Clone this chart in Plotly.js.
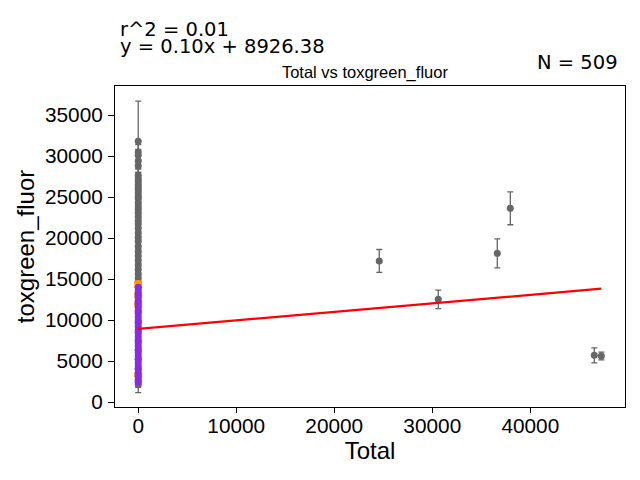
<!DOCTYPE html>
<html>
<head>
<meta charset="utf-8">
<script src="https://cdn.plot.ly/plotly-3.0.1.min.js"></script>
<style>
  body { margin: 0; background: #fff; }
  #plot { width: 640px; height: 480px; }
</style>
</head>
<body>
<div id="plot"></div>
<script>
// points sitting at Total = 0 (gray, with error bars)
var grayZeroY = [31800, 30500, 30100, 29400, 28800, 27600, 27200, 26900, 26500, 26200,
                 25900, 25500, 25100, 24800, 24300, 23900, 23500, 23100, 22600, 22100,
                 21700, 21200, 20600, 20100, 19600, 19000, 18400, 17800, 17300, 16700,
                 16200, 15600, 15100, 14600, 14000, 13200, 12100, 11000, 9800, 8600,
                 7400, 6300, 5200, 4100, 3200, 2600, 2100];
var grayZeroErr = [4900, 900, 700, 1000, 800, 900, 700, 1100, 800, 900,
                   700, 1000, 800, 900, 700, 1000, 800, 700, 900, 800,
                   700, 900, 800, 700, 900, 800, 700, 900, 800, 700,
                   800, 900, 700, 800, 700, 800, 700, 800, 700, 800,
                   700, 800, 700, 800, 700, 800, 950];

// the few points with a nonzero Total
var grayX = [24590, 30610, 36630, 37960, 46530, 47245];
var grayY = [17200, 12520, 18130, 23620, 5690, 5610];
var grayErr = [1400, 1120, 1770, 2000, 910, 470];

// orange points at Total = 0 (mostly hidden behind purple)
var orangeY = [14400, 13000, 11900, 3300];
var orangeErr = [300, 300, 300, 200];

// purple points at Total = 0
var purpleY = [14000, 13600, 13200, 12800, 12400, 12000, 11600, 11200, 10800, 10400,
               10000, 9600, 9200, 8800, 8400, 8000, 7600, 7200, 6800, 6400,
               6000, 5600, 5200, 4800, 4400, 4000, 3600, 3200, 2800, 2400];

var fitSlope = 0.1035;
var fitIntercept = 8926.38;
var fitXEnd = 47245;

var r2Label = 'r^2 = 0.01';
var eqLabel = 'y = 0.10x + 8926.38';
var nLabel = 'N = 509';

var gray = '#666666';
var sans = 'Liberation Sans, Arial, sans-serif';

var traces = [
  {
    x: grayZeroY.map(function () { return 0; }),
    y: grayZeroY,
    type: 'scatter', mode: 'markers',
    marker: { color: gray, size: 7 },
    error_y: { type: 'data', array: grayZeroErr, color: gray, thickness: 1.3, width: 3 },
    showlegend: false
  },
  {
    x: grayX, y: grayY,
    type: 'scatter', mode: 'markers',
    marker: { color: gray, size: 7 },
    error_y: { type: 'data', array: grayErr, color: gray, thickness: 1.3, width: 3 },
    showlegend: false
  },
  {
    x: orangeY.map(function () { return 0; }),
    y: orangeY,
    type: 'scatter', mode: 'markers',
    marker: { color: '#ff9900', size: 8 },
    error_y: { type: 'data', array: orangeErr, color: '#ff9900', thickness: 1.3, width: 4 },
    showlegend: false
  },
  {
    x: purpleY.map(function () { return 0; }),
    y: purpleY,
    type: 'scatter', mode: 'markers',
    marker: { color: '#8a2be2', size: 7 },
    showlegend: false
  },
  {
    x: [0, fitXEnd],
    y: [fitIntercept, fitIntercept + fitSlope * fitXEnd],
    type: 'scatter', mode: 'lines',
    line: { color: '#ff0000', width: 2.2 },
    showlegend: false
  }
];

var tickFont = { family: sans, size: 20.8, color: '#000' };
var labelFont = { family: sans, size: 24, color: '#000' };
var noteFont = { family: 'DejaVu Sans', size: 19.5, color: '#000' };

var layout = {
  width: 640, height: 480,
  margin: { l: 115, r: 15, t: 86, b: 73, pad: 0 },
  paper_bgcolor: '#fff', plot_bgcolor: '#fff',
  title: {
    text: 'Total vs toxgreen_fluor',
    font: { family: sans, size: 16.5, color: '#000' },
    x: 0.49, xref: 'paper', xanchor: 'center',
    y: 0.85, yref: 'container', yanchor: 'middle'
  },
  xaxis: {
    range: [-2370, 49660],
    tickvals: [0, 10000, 20000, 30000, 40000],
    ticktext: ['0', '10000', '20000', '30000', '40000'],
    tickfont: tickFont,
    ticks: 'outside', ticklen: 5, tickcolor: '#000', tickwidth: 1,
    ticklabelstandoff: -5,
    showgrid: false, zeroline: false,
    showline: true, linecolor: '#000', linewidth: 1, mirror: true,
    title: { text: 'Total', font: labelFont, standoff: 4 }
  },
  yaxis: {
    range: [-610, 38540],
    tickvals: [0, 5000, 10000, 15000, 20000, 25000, 30000, 35000],
    ticktext: ['0', '5000', '10000', '15000', '20000', '25000', '30000', '35000'],
    tickfont: tickFont,
    ticks: 'outside', ticklen: 6, tickcolor: '#000', tickwidth: 1,
    ticklabelstandoff: 1,
    showgrid: false, zeroline: false,
    showline: true, linecolor: '#000', linewidth: 1, mirror: true,
    title: { text: 'toxgreen_fluor', font: labelFont, standoff: 3 }
  },
  annotations: [
    {
      text: r2Label, xref: 'paper', yref: 'paper', x: 0.005, y: 1.175,
      xanchor: 'left', yanchor: 'middle', showarrow: false,
      font: noteFont
    },
    {
      text: eqLabel, xref: 'paper', yref: 'paper', x: 0.005, y: 1.124,
      xanchor: 'left', yanchor: 'middle', showarrow: false,
      font: noteFont
    },
    {
      text: nLabel, xref: 'paper', yref: 'paper', x: 0.99, y: 1.074,
      xanchor: 'right', yanchor: 'middle', showarrow: false,
      font: noteFont
    }
  ]
};

Plotly.newPlot('plot', traces, layout, { staticPlot: true, displayModeBar: false });
</script>
</body>
</html>
